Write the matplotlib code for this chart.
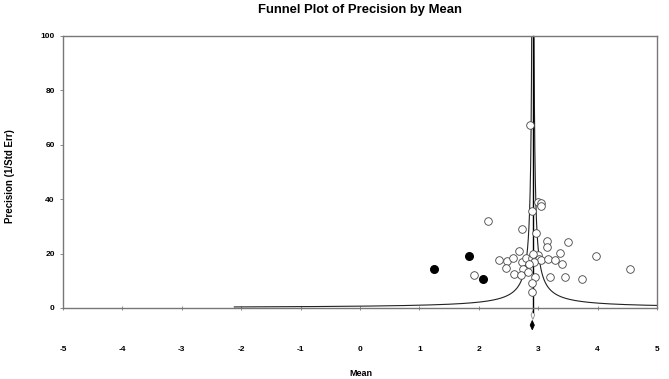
import numpy as np
import matplotlib
matplotlib.use("Agg")
import matplotlib.pyplot as plt
from matplotlib.patches import Polygon

# observed studies (mean, precision)
obs_mean = [2.16, 1.92, 2.72, 2.34, 2.47, 2.45, 2.58, 2.67, 2.60, 2.73,
            2.74, 2.79, 2.71, 2.83, 2.89, 2.96, 2.90, 2.99, 3.05, 3.05,
            2.97, 3.00, 3.02, 3.04, 2.95, 2.89, 2.89, 3.15, 3.14, 3.16,
            3.28, 3.36, 3.40, 3.50, 3.20, 3.45, 3.97, 4.55, 3.74, 2.86,
            2.93, 2.85, 2.92]
obs_prec = [32.0, 12.0, 29.2, 17.6, 17.3, 14.7, 18.5, 21.0, 12.6, 16.8,
            14.2, 18.5, 12.0, 13.1, 18.3, 27.4, 35.7, 39.1, 38.7, 37.6,
            18.4, 19.5, 18.0, 17.5, 11.3, 9.3, 6.0, 24.6, 22.5, 17.9,
            17.6, 20.2, 16.2, 24.3, 11.3, 11.4, 19.1, 14.2, 10.7, 67.3,
            17.0, 16.0, 20.0]

# imputed studies (trim and fill)
imp_mean = [1.25, 1.835, 2.07]
imp_prec = [14.2, 19.0, 10.7]

pooled_mean = 2.91
pooled_imputed = 2.90

x_ticks = [-5, -4, -3, -2, -1, 0, 1, 2, 3, 4, 5]
y_ticks = [0, 20, 40, 60, 80, 100]

plt.rcParams['font.family'] = ['Liberation Sans', 'DejaVu Sans']

fig = plt.figure(figsize=(6.69, 3.79), dpi=100)
ax = fig.add_axes([63 / 669, 1 - 308 / 379, 594 / 669, 272 / 379])

# funnel
p = np.linspace(0.39, 100, 4000)
ax.plot(pooled_mean - 1.96 / p, p, color='#222222', lw=0.8, zorder=2)
ax.plot(pooled_mean + 1.96 / p, p, color='#222222', lw=0.8, zorder=2)
ax.plot([pooled_mean, pooled_mean], [-1.5, 100], color='black', lw=1.0,
        zorder=2, clip_on=False)

ax.scatter(obs_mean, obs_prec, s=30, facecolors='white', edgecolors='#444444',
           linewidths=0.6, zorder=3)
ax.scatter(imp_mean, imp_prec, s=30, color='black', zorder=4)

# summary diamonds below axis
d1 = Polygon([[pooled_mean - 0.03, -2.6], [pooled_mean, -1.0],
              [pooled_mean + 0.03, -2.6], [pooled_mean, -4.2]],
             closed=True, facecolor='white', edgecolor='#888888', lw=0.6,
             clip_on=False)
d2 = Polygon([[pooled_imputed - 0.035, -6.3], [pooled_imputed, -4.6],
              [pooled_imputed + 0.035, -6.3], [pooled_imputed, -8.0]],
             closed=True, facecolor='black', edgecolor='black', lw=0.6,
             clip_on=False)
ax.add_patch(d1)
ax.add_patch(d2)

ax.set_xlim(-5, 5)
ax.set_ylim(0, 100)
ax.set_xticks(x_ticks)
ax.set_yticks(y_ticks)
ax.set_xticklabels([str(t) for t in x_ticks], fontsize=6, fontweight='bold')
ax.set_yticklabels([str(t) for t in y_ticks], fontsize=6, fontweight='bold')
ax.tick_params(axis='x', direction='inout', length=3, width=0.6,
               color='#777777', pad=26)
ax.tick_params(axis='y', direction='out', length=2, width=0.6,
               color='#777777', pad=4)
for s in ax.spines.values():
    s.set_color('#777777')
    s.set_linewidth(1.0)

fig.text(360 / 669, 1 - 10 / 379, 'Funnel Plot of Precision by Mean',
         ha='center', va='center', fontsize=9.4, fontweight='bold')
fig.text(361 / 669, 1 - 373 / 379, 'Mean', ha='center', va='center',
         fontsize=6.5, fontweight='bold')
fig.text(10 / 669, 1 - 176 / 379, 'Precision (1/Std Err)', ha='center',
         va='center', rotation=90, fontsize=7, fontweight='bold')

fig.savefig('out.png', dpi=100)
